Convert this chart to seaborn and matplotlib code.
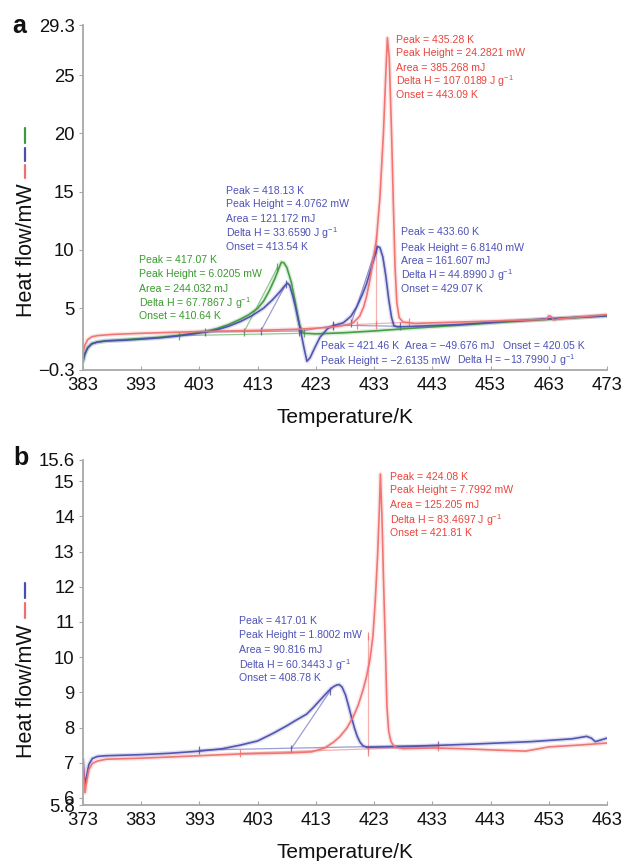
import matplotlib
matplotlib.use("Agg")
import matplotlib.pyplot as plt
import pandas as pd
import seaborn as sns

# ---------------- panel a: three DSC runs ----------------
a_green_T = [383.0, 383.3, 383.8, 384.5, 385.5, 387, 390, 393, 396, 399, 402, 404, 406, 408, 410,
             411.5, 413, 414, 415, 416, 416.7, 417.07, 417.5, 418, 418.8, 419.5, 420.0, 420.4, 421,
             423, 428, 433, 440, 447.7, 455, 463, 473]
a_green_Q = [0.4, 1.0, 1.6, 1.95, 2.1, 2.2, 2.3, 2.4, 2.5, 2.65, 2.85, 3.0, 3.25, 3.6, 4.05,
             4.45, 5.0, 5.6, 6.5, 7.6, 8.5, 8.95, 8.9, 8.5, 7.2, 5.4, 4.0, 3.1, 2.85,
             2.8, 2.9, 3.05, 3.3, 3.55, 3.8, 4.05, 4.35]

a_blue_T = [383.0, 383.3, 383.8, 384.5, 385.5, 387, 390, 393, 396, 399, 402, 404, 406, 408, 410,
            412, 414, 415.5, 416.8, 417.6, 418.13, 418.5, 419.0, 419.5, 420.0, 420.4, 421.0, 421.46,
            422.0, 422.8, 423.7, 425, 426, 427, 427.7, 429, 430, 431, 431.7, 432.9, 433.6, 434.0,
            434.5, 435.0, 435.5, 436.0, 436.4, 437, 440, 447.7, 455, 463, 473]
a_blue_Q = [0.5, 1.1, 1.6, 1.95, 2.1, 2.2, 2.25, 2.35, 2.45, 2.6, 2.8, 2.95, 3.15, 3.45, 3.85,
            4.35, 5.0, 5.7, 6.4, 6.9, 7.15, 6.95, 6.1, 5.1, 3.95, 3.0, 1.5, 0.45,
            0.75, 1.6, 2.5, 3.25, 3.5, 3.65, 3.75, 4.3, 5.1, 6.2, 7.1, 9.1, 10.3, 10.2,
            9.4, 7.8, 5.8, 4.2, 3.5, 3.4, 3.45, 3.6, 3.85, 4.1, 4.35]

a_red_T = [383.0, 383.3, 383.8, 384.5, 385.5, 388, 393, 403, 413, 420, 425, 427, 428.5, 429.4,
           430.5, 431.2, 431.7, 432.3, 432.8, 433.4, 434.0, 434.6, 435.0, 435.28, 435.6, 436.0,
           436.3, 436.6, 436.9, 437.3, 438, 440, 450, 460, 462.6, 463.0, 463.4, 463.8, 465, 473]
a_red_Q = [1.2, 1.8, 2.3, 2.55, 2.65, 2.75, 2.85, 3.0, 3.1, 3.2, 3.35, 3.45, 3.6, 3.75,
           4.3, 5.1, 6.0, 7.5, 9.1, 10.9, 14.5, 20.0, 25.0, 28.2, 26.5, 20.0,
           14.0, 8.5, 5.5, 4.2, 3.8, 3.7, 3.85, 4.0, 4.05, 4.35, 4.3, 4.0, 4.1, 4.45]

a_xticks = [383, 393, 403, 413, 423, 433, 443, 453, 463, 473]
a_yticks = [-0.3, 5, 10, 15, 20, 25, 29.3]
a_ytick_labels = ["\u22120.3", "5", "10", "15", "20", "25", "29.3"]

a_red_notes = ["Peak = 435.28 K", "Peak Height = 24.2821 mW", "Area = 385.268 mJ",
               "Delta H = 107.0189 J g$^{-1}$", "Onset = 443.09 K"]
a_blue1_notes = ["Peak = 418.13 K", "Peak Height = 4.0762 mW", "Area = 121.172 mJ",
                 "Delta H = 33.6590 J g$^{-1}$", "Onset = 413.54 K"]
a_green_notes = ["Peak = 417.07 K", "Peak Height = 6.0205 mW", "Area = 244.032 mJ",
                 "Delta H = 67.7867 J g$^{-1}$", "Onset = 410.64 K"]
a_blue2_notes = ["Peak = 433.60 K", "Peak Height = 6.8140 mW", "Area = 161.607 mJ",
                 "Delta H = 44.8990 J g$^{-1}$", "Onset = 429.07 K"]
a_blue3_notes = ["Peak = 421.46 K", "Peak Height = \u22122.6135 mW", "Area = \u221249.676 mJ",
                 "Delta H = \u221213.7990 J g$^{-1}$", "Onset = 420.05 K"]

# ---------------- panel b: two DSC runs ----------------
b_blue_T = [373.0, 373.15, 373.35, 373.6, 374.0, 374.6, 375.5, 377, 383, 388, 393, 397, 400, 403,
            405.7, 408, 409.5, 411.4, 412.5, 413.5, 414.5, 415.3, 416.0, 416.6, 417.01, 417.5,
            418.1, 418.6, 419.1, 419.6, 420.1, 420.6, 421.1, 421.8, 430, 440, 450, 457, 459.5,
            460.3, 461, 462, 463]
b_blue_Q = [7.1, 6.7, 6.4, 6.6, 6.95, 7.12, 7.18, 7.2, 7.23, 7.27, 7.33, 7.4, 7.5, 7.62,
            7.84, 8.05, 8.2, 8.38, 8.56, 8.74, 8.92, 9.06, 9.16, 9.21, 9.22, 9.15,
            8.92, 8.62, 8.3, 8.0, 7.75, 7.58, 7.48, 7.44, 7.47, 7.53, 7.6, 7.68, 7.75,
            7.7, 7.6, 7.65, 7.7]

b_red_T = [373.0, 373.15, 373.35, 373.6, 374.0, 374.6, 375.5, 377, 383, 393, 400, 406, 410, 412.3,
           414.5, 416, 417.1, 418.3, 419.4, 420.3, 421.1, 421.7, 422.3, 422.8, 423.2, 423.6,
           423.9, 424.08, 424.35, 424.6, 424.9, 425.2, 425.5, 425.9, 426.5, 428, 433, 438, 444,
           449, 453, 458, 463]
b_red_Q = [7.0, 6.6, 6.15, 6.45, 6.8, 6.98, 7.05, 7.1, 7.13, 7.2, 7.25, 7.27, 7.29, 7.31,
           7.42, 7.58, 7.74, 7.98, 8.3, 8.65, 9.07, 9.45, 9.95, 10.6, 11.6, 12.9,
           14.2, 15.2, 14.0, 12.3, 10.5, 8.6, 7.9, 7.6, 7.45, 7.4, 7.42, 7.4, 7.36,
           7.33, 7.45, 7.5, 7.56]

b_xticks = [373, 383, 393, 403, 413, 423, 433, 443, 453, 463]
b_yticks = [5.8, 6, 7, 8, 9, 10, 11, 12, 13, 14, 15, 15.6]
b_ytick_labels = ["5.8", "6", "7", "8", "9", "10", "11", "12", "13", "14", "15", "15.6"]

b_red_notes = ["Peak = 424.08 K", "Peak Height = 7.7992 mW", "Area = 125.205 mJ",
               "Delta H = 83.4697 J g$^{-1}$", "Onset = 421.81 K"]
b_blue_notes = ["Peak = 417.01 K", "Peak Height = 1.8002 mW", "Area = 90.816 mJ",
                "Delta H = 60.3443 J g$^{-1}$", "Onset = 408.78 K"]

# baseline / tangent constructions drawn by the analysis software: (T0, Q0, T1, Q1)
a_green_constr = [(399.5, 2.65, 421.0, 2.85), (410.64, 2.95, 416.4, 8.5)]
a_blue_constr = [(404.0, 2.95, 420.4, 3.05), (413.54, 3.05, 417.9, 7.1),
                 (420.05, 3.0, 426.0, 3.5), (426.0, 3.55, 437.4, 3.45),
                 (429.07, 3.7, 433.3, 10.1)]
a_red_constr = [(430.0, 3.6, 439.0, 3.8), (433.3, 3.6, 433.3, 11.0)]
b_blue_constr = [(393.0, 7.36, 434.0, 7.5), (408.78, 7.4, 415.5, 9.05)]
b_red_constr = [(400.0, 7.27, 434.0, 7.46), (422.0, 7.3, 422.0, 10.6)]

GREEN, BLUE, RED = "#3d9a3d", "#4b4eae", "#f07070"
GREEN_TXT, BLUE_TXT, RED_TXT = "#3a9a2f", "#4d52b5", "#e8453c"
AXIS_GREY = "#a8a8a8"

sns.set_theme(style="white")
plt.rcParams["font.family"] = ["Liberation Sans", "DejaVu Sans"]
plt.rcParams["mathtext.fontset"] = "custom"
plt.rcParams["mathtext.rm"] = "Liberation Sans"
plt.rcParams["mathtext.it"] = "Liberation Sans:italic"

fig = plt.figure(figsize=(6.26, 8.61), dpi=100)
ax_a = fig.add_axes([83 / 626, 1 - 370 / 861, 524 / 626, 345 / 861])
ax_b = fig.add_axes([83 / 626, 1 - 805 / 861, 524 / 626, 345 / 861])


def draw_runs(ax, runs):
    frames = []
    for name, T, Q, _ in runs:
        frames.append(pd.DataFrame({"T": T, "Q": Q, "run": name}))
    df = pd.concat(frames, ignore_index=True)
    pal = {name: c for name, _, _, c in runs}
    # soft halo under each trace, then the trace itself
    sns.lineplot(data=df, x="T", y="Q", hue="run", units="run", palette=pal, sort=False,
                 estimator=None, legend=False, ax=ax, lw=3.2, alpha=0.18)
    sns.lineplot(data=df, x="T", y="Q", hue="run", units="run", palette=pal, sort=False,
                 estimator=None, legend=False, ax=ax, lw=1.2, alpha=0.95)


def draw_constr(ax, segs, color):
    for T0, Q0, T1, Q1 in segs:
        ax.plot([T0, T1], [Q0, Q1], color=color, lw=0.9, alpha=0.55)
        ax.plot([T0, T1], [Q0, Q1], ls="none", marker="|", ms=6, mew=0.9,
                color=color, alpha=0.8)


def notes(ax, x, ys, lines, color, size=7.6):
    for y, s in zip(ys, lines):
        ax.text(x, y, s, color=color, fontsize=size, ha="left", va="baseline")


def style_axes(ax, xlim, ylim, xticks, yticks, ylabels, ylab_y):
    ax.set_xlim(*xlim)
    ax.set_ylim(*ylim)
    ax.set_xticks(xticks)
    ax.set_xticklabels([str(t) for t in xticks])
    ax.set_yticks(yticks)
    ax.set_yticklabels(ylabels)
    for side in ("top", "right"):
        ax.spines[side].set_visible(False)
    for side in ("left", "bottom"):
        ax.spines[side].set_color(AXIS_GREY)
        ax.spines[side].set_linewidth(1.3)
    ax.tick_params(axis="x", direction="in", length=3, width=0.8, color=AXIS_GREY,
                   labelsize=13.3, pad=5, labelcolor="#111111", bottom=True)
    ax.tick_params(axis="y", direction="out", length=3, width=0.8, color=AXIS_GREY,
                   labelsize=13.3, pad=3, labelcolor="#111111", left=True)
    ax.set_xlabel("Temperature/K", fontsize=15, color="#111111", labelpad=10)
    ax.set_ylabel("Heat flow/mW", fontsize=15.5, color="#111111")
    ax.yaxis.set_label_coords(-0.0885, ylab_y)
    ax.grid(False)


# ---- panel a ----
draw_constr(ax_a, a_green_constr, GREEN)
draw_constr(ax_a, a_blue_constr, BLUE)
draw_constr(ax_a, a_red_constr, RED)
draw_runs(ax_a, [("green", a_green_T, a_green_Q, GREEN),
                 ("blue", a_blue_T, a_blue_Q, BLUE),
                 ("red", a_red_T, a_red_Q, RED)])
style_axes(ax_a, (383, 473), (-0.3, 29.3), a_xticks, a_yticks, a_ytick_labels, 0.348)

notes(ax_a, 436.76, [27.76, 26.65, 25.35, 24.15, 23.04], a_red_notes, RED_TXT)
notes(ax_a, 407.56, [14.82, 13.68, 12.39, 11.10, 10.01], a_blue1_notes, BLUE_TXT)
notes(ax_a, 392.62, [8.84, 7.67, 6.41, 5.12, 4.07], a_green_notes, GREEN_TXT)
notes(ax_a, 437.62, [11.24, 9.95, 8.81, 7.52, 6.38], a_blue2_notes, BLUE_TXT)
ax_a.text(423.88, 1.52, a_blue3_notes[0], color=BLUE_TXT, fontsize=7.6, va="baseline")
ax_a.text(423.88, 0.23, a_blue3_notes[1], color=BLUE_TXT, fontsize=7.6, va="baseline")
ax_a.text(438.3, 1.52, a_blue3_notes[2], color=BLUE_TXT, fontsize=7.6, va="baseline")
ax_a.text(447.2, 0.23, a_blue3_notes[3], color=BLUE_TXT, fontsize=7.6, va="baseline")
ax_a.text(455.14, 1.52, a_blue3_notes[4], color=BLUE_TXT, fontsize=7.6, va="baseline")

# run key beside the y label
for (y0, y1), c in zip([(0.701, 0.658), (0.643, 0.606), (0.594, 0.557)], [GREEN, BLUE, RED]):
    ax_a.plot([-0.1116, -0.1116], [y0, y1], transform=ax_a.transAxes, clip_on=False,
              color=c, lw=1.6)

# ---- panel b ----
draw_constr(ax_b, b_blue_constr, BLUE)
draw_constr(ax_b, b_red_constr, RED)
draw_runs(ax_b, [("blue", b_blue_T, b_blue_Q, BLUE),
                 ("red", b_red_T, b_red_Q, RED)])
style_axes(ax_b, (373, 463), (5.8, 15.6), b_xticks, b_yticks, b_ytick_labels, 0.330)

notes(ax_b, 425.73, [15.04, 14.66, 14.24, 13.79, 13.44], b_red_notes, RED_TXT)
notes(ax_b, 399.79, [10.95, 10.54, 10.11, 9.67, 9.32], b_blue_notes, BLUE_TXT)

for (y0, y1), c in zip([(0.643, 0.600), (0.586, 0.542)], [BLUE, RED]):
    ax_b.plot([-0.1107, -0.1107], [y0, y1], transform=ax_b.transAxes, clip_on=False,
              color=c, lw=1.6)

# panel letters
fig.text(19.5 / 626, 1 - 33 / 861, "a", fontsize=18, fontweight="bold", ha="center",
         va="baseline", color="#111111")
fig.text(20.5 / 626, 1 - 465 / 861, "b", fontsize=18, fontweight="bold", ha="center",
         va="baseline", color="#111111")

fig.savefig("out.png", dpi=100)
